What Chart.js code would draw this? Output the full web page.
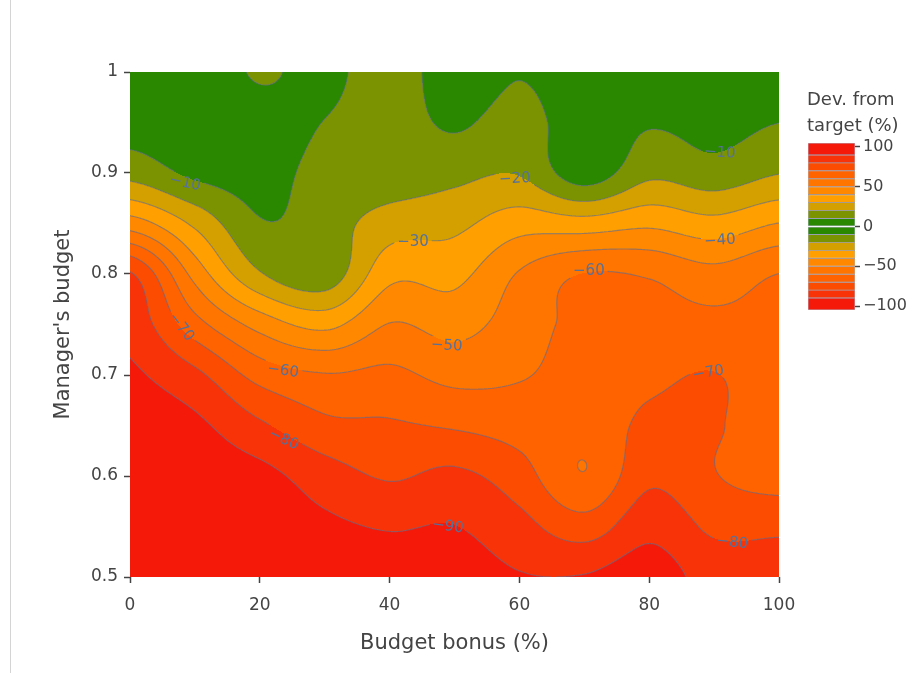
<!DOCTYPE html>
<html>
<head>
<meta charset="utf-8">
<script src="https://cdn.jsdelivr.net/npm/chart.js@4.4.1/dist/chart.umd.min.js"></script>
<style>
  html, body { margin: 0; padding: 0; background: #fff; }
  #wrap { position: relative; width: 917px; height: 673px; overflow: hidden; }
  #edge { position: absolute; left: 10px; top: 0; width: 1px; height: 673px; background: #d4d4d4; }
  #main { position: absolute; left: 0; top: 0; }
  #bar { position: absolute; left: 800px; top: 130px; }
  #cbTitle { position: absolute; left: 807px; top: 86px; font-family: "DejaVu Sans", Verdana, sans-serif;
             font-size: 18px; line-height: 26px; color: #444; white-space: nowrap; }
</style>
</head>
<body>
<div id="wrap">
  <div id="edge"></div>
  <canvas id="main" width="917" height="673"></canvas>
  <canvas id="bar" width="117" height="200"></canvas>
  <div id="cbTitle">Dev. from<br>target (%)</div>
</div>
<script>
// grid of the contour: budget bonus (x) and manager's budget (y, top to bottom)
const bonus = [0, 10, 20, 30, 40, 50, 60, 70, 80, 90, 100];
const budget = [1.0, 0.95, 0.9, 0.85, 0.8, 0.75, 0.7, 0.65, 0.6, 0.55, 0.5];

// deviation from target (%) for each bonus column, rows follow `budget`
const dev0   = [-3, -6, -16.5, -45, -81, -86.5, -91.5, -94, -96, -97, -98];
const dev10  = [-3, -5, -8, -28, -46.5, -64, -82.5, -92, -95, -97, -98];
const dev20  = [-11, -6, -7, -10.8, -21, -46.3, -66.3, -81.7, -93, -96, -98];
const dev30  = [-7, -10.2, -12.5, -15, -14, -37.3, -60.7, -72.5, -84.8, -92, -95];
const dev40  = [-15.5, -14.5, -14, -25, -37, -50.4, -62.3, -71.2, -79, -89.3, -94];
const dev50  = [-4, -8.5, -17.1, -27.4, -37.1, -46.5, -57.1, -68.9, -82.2, -90.2, -94];
const dev60  = [-9.5, -14.1, -19.3, -35.7, -50.8, -55, -59.2, -65.9, -74.4, -83.5, -90.5];
const dev70  = [-4, -4, -4.5, -34.3, -60.3, -63, -64, -63, -60.4, -74.7, -90.5];
const dev80  = [-3, -9, -17.6, -38, -58.9, -63.8, -67.8, -72.4, -77.8, -86.9, -95];
const dev90  = [-3, -6.5, -14, -33.4, -53.4, -62.9, -70.3, -70.8, -70.5, -78, -86];
const dev100 = [-5, -9.9, -19.6, -40.2, -60.1, -63, -64, -65, -66, -77.9, -85.8];

const levels = [-100, -90, -80, -70, -60, -50, -40, -30, -20, -10, 0, 10, 20, 30, 40, 50, 60, 70, 80, 90, 100];
const bandColors = [
  '#f5190a', '#f93308', '#fc4c02', '#ff6300', '#ff7500', '#ff8800', '#ffa000', '#d3a000', '#7b9300', '#2a8700',
  '#2a8700', '#7b9300', '#d3a000', '#ffa000', '#ff8800', '#ff7500', '#ff6300', '#fc4c02', '#f93308', '#f5190a'
];

const xTicks = [0, 20, 40, 60, 80, 100];
const yTicks = [0.5, 0.6, 0.7, 0.8, 0.9, 1];
const cbTicks = [-100, -50, 0, 50, 100];

// where plotly put the level labels (data coordinates)
const contourLabels = [
  { level: -10, x: 8.5,  y: 0.891, angle: 12 },
  { level: -30, x: 43.6, y: 0.833, angle: 0 },
  { level: -20, x: 59.3, y: 0.895, angle: -3 },
  { level: -10, x: 90.9, y: 0.921, angle: 4 },
  { level: -40, x: 90.9, y: 0.834, angle: -4 },
  { level: -60, x: 70.7, y: 0.804, angle: 0 },
  { level: -50, x: 48.8, y: 0.730, angle: 3 },
  { level: -70, x: 8.0,  y: 0.748, angle: 52 },
  { level: -60, x: 23.6, y: 0.705, angle: 8 },
  { level: -80, x: 23.7, y: 0.637, angle: 25 },
  { level: -90, x: 49.0, y: 0.551, angle: 8 },
  { level: -70, x: 89.1, y: 0.703, angle: -10 },
  { level: -80, x: 92.8, y: 0.535, angle: 6 },
];

const FONT = '"DejaVu Sans", Verdana, sans-serif';
const grid = [dev0, dev10, dev20, dev30, dev40, dev50, dev60, dev70, dev80, dev90, dev100];
const fmt = v => (v < 0 ? '\u2212' + Math.abs(v) : String(v));

function locate(arr, v) {
  const asc = arr[arr.length - 1] > arr[0];
  for (let i = 0; i < arr.length - 1; i++) {
    const a = arr[i], b = arr[i + 1];
    if ((asc && v <= b) || (!asc && v >= b)) {
      return [i, Math.min(1, Math.max(0, (v - a) / (b - a)))];
    }
  }
  return [arr.length - 2, 1];
}

// Catmull-Rom weights for the nodes i-1, i, i+1, i+2
function crWeights(t) {
  const t2 = t * t, t3 = t2 * t;
  return [(-t3 + 2 * t2 - t) / 2, (3 * t3 - 5 * t2 + 2) / 2, (-3 * t3 + 4 * t2 + t) / 2, (t3 - t2) / 2];
}

function devAt(bx, by) {
  const [i, tx] = locate(bonus, bx);
  const [j, ty] = locate(budget, by);
  const wx = crWeights(tx), wy = crWeights(ty);
  let z = 0;
  for (let a = 0; a < 4; a++) {
    const ii = Math.min(bonus.length - 1, Math.max(0, i - 1 + a));
    for (let b = 0; b < 4; b++) {
      const jj = Math.min(budget.length - 1, Math.max(0, j - 1 + b));
      z += wx[a] * wy[b] * grid[ii][jj];
    }
  }
  return z;
}

function bandOf(z) {
  for (let k = levels.length - 2; k >= 0; k--) {
    if (z >= levels[k]) return k;
  }
  return 0;
}

const hexRgb = h => [1, 3, 5].map(p => parseInt(h.slice(p, p + 2), 16));

const contourPlugin = {
  id: 'contour',
  beforeDatasetsDraw(chart) {
    const { ctx, chartArea: a, scales: { x, y } } = chart;
    const w = Math.round(a.right - a.left), h = Math.round(a.bottom - a.top);

    // filled bands
    const rgb = bandColors.map(hexRgb);
    const off = document.createElement('canvas');
    off.width = w; off.height = h;
    const oc = off.getContext('2d');
    const img = oc.createImageData(w, h);
    const xv = [];
    for (let i = 0; i < w; i++) xv.push(x.getValueForPixel(a.left + i + 0.5));
    for (let j = 0; j < h; j++) {
      const yv = y.getValueForPixel(a.top + j + 0.5);
      for (let i = 0; i < w; i++) {
        const c = rgb[bandOf(devAt(xv[i], yv))];
        const p = (j * w + i) * 4;
        img.data[p] = c[0]; img.data[p + 1] = c[1]; img.data[p + 2] = c[2]; img.data[p + 3] = 255;
      }
    }
    oc.putImageData(img, 0, 0);
    ctx.drawImage(off, a.left, a.top, w, h);

    // contour lines, sampled every 2px and traced with marching squares
    const s = 2;
    const nx = Math.ceil(w / s), ny = Math.ceil(h / s);
    const zs = [];
    for (let jj = 0; jj <= ny; jj++) {
      const row = [];
      const yv = y.getValueForPixel(Math.min(a.top + jj * s, a.bottom));
      for (let ii = 0; ii <= nx; ii++) row.push(devAt(x.getValueForPixel(Math.min(a.left + ii * s, a.right)), yv));
      zs.push(row);
    }

    ctx.save();
    ctx.font = '15px ' + FONT;
    // keep the lines out from under the labels
    ctx.beginPath();
    ctx.rect(a.left, a.top, a.right - a.left, a.bottom - a.top);
    const boxes = contourLabels.map(l => {
      const cx = x.getPixelForValue(l.x), cy = y.getPixelForValue(l.y);
      const hw = ctx.measureText(fmt(l.level)).width / 2 + 3, hh = 8;
      const t = l.angle * Math.PI / 180, co = Math.cos(t), si = Math.sin(t);
      const pts = [[-hw, -hh], [-hw, hh], [hw, hh], [hw, -hh]].map(([u, v]) => [cx + u * co - v * si, cy + u * si + v * co]);
      ctx.moveTo(pts[0][0], pts[0][1]);
      for (let k = 1; k < 4; k++) ctx.lineTo(pts[k][0], pts[k][1]);
      ctx.closePath();
      return { cx, cy, t };
    });
    ctx.clip('evenodd');

    ctx.strokeStyle = 'rgba(96,108,140,0.62)';
    ctx.lineWidth = 1.2;
    ctx.lineJoin = 'round';
    ctx.beginPath();
    for (let k = 1; k < levels.length - 1; k++) {
      const L = levels[k];
      for (let jj = 0; jj < ny; jj++) {
        const y0 = Math.min(a.top + jj * s, a.bottom), y1 = Math.min(a.top + (jj + 1) * s, a.bottom);
        for (let ii = 0; ii < nx; ii++) {
          const x0 = Math.min(a.left + ii * s, a.right), x1 = Math.min(a.left + (ii + 1) * s, a.right);
          const zA = zs[jj][ii], zB = zs[jj][ii + 1], zC = zs[jj + 1][ii + 1], zD = zs[jj + 1][ii];
          const pts = [];
          if ((zA < L) !== (zB < L)) pts.push([x0 + (x1 - x0) * (L - zA) / (zB - zA), y0]);
          if ((zB < L) !== (zC < L)) pts.push([x1, y0 + (y1 - y0) * (L - zB) / (zC - zB)]);
          if ((zD < L) !== (zC < L)) pts.push([x0 + (x1 - x0) * (L - zD) / (zC - zD), y1]);
          if ((zA < L) !== (zD < L)) pts.push([x0, y0 + (y1 - y0) * (L - zA) / (zD - zA)]);
          for (let p = 0; p + 1 < pts.length; p += 2) {
            ctx.moveTo(pts[p][0], pts[p][1]);
            ctx.lineTo(pts[p + 1][0], pts[p + 1][1]);
          }
        }
      }
    }
    ctx.stroke();
    ctx.restore();

    // level labels
    ctx.save();
    ctx.font = '15px ' + FONT;
    ctx.fillStyle = '#56719a';
    ctx.textAlign = 'center';
    ctx.textBaseline = 'middle';
    contourLabels.forEach((l, k) => {
      const b = boxes[k];
      ctx.save();
      ctx.translate(b.cx, b.cy);
      ctx.rotate(b.t);
      ctx.fillText(fmt(l.level), 0, 1);
      ctx.restore();
    });
    ctx.restore();
  }
};

Chart.defaults.font.family = FONT;
Chart.defaults.color = '#444';

new Chart(document.getElementById('main'), {
  type: 'scatter',
  data: { datasets: [{ data: [] }] },
  options: {
    responsive: false,
    animation: false,
    layout: { padding: { left: 47, top: 72, right: 138, bottom: 13 } },
    plugins: { legend: { display: false }, tooltip: { enabled: false } },
    scales: {
      x: {
        type: 'linear', min: 0, max: 100,
        afterBuildTicks: s => { s.ticks = xTicks.map(v => ({ value: v })); },
        afterFit: s => { s.height = 83; },
        ticks: { color: '#444', font: { size: 17 }, padding: 12, maxRotation: 0 },
        grid: { drawOnChartArea: false, tickLength: 6, tickColor: '#444', tickWidth: 1.5 },
        border: { display: false },
        title: { display: true, text: 'Budget bonus (%)', color: '#444', font: { size: 21 } }
      },
      y: {
        type: 'linear', min: 0.5, max: 1,
        afterBuildTicks: s => { s.ticks = yTicks.map(v => ({ value: v })); },
        afterFit: s => { s.width = 83; },
        ticks: { color: '#444', font: { size: 17 }, padding: 6, callback: v => String(+v.toFixed(1)) },
        grid: { drawOnChartArea: false, tickLength: 6, tickColor: '#444', tickWidth: 1.5 },
        border: { display: false },
        title: { display: true, text: "Manager's budget", color: '#444', font: { size: 21 } }
      }
    }
  },
  plugins: [contourPlugin]
});

// colour bar: one floating bar per contour band
new Chart(document.getElementById('bar'), {
  type: 'bar',
  data: {
    labels: [''],
    datasets: bandColors.map((c, k) => ({
      data: [[k === 0 ? -105 : levels[k], k === bandColors.length - 1 ? 105 : levels[k + 1]]],
      backgroundColor: c,
      borderColor: 'rgba(96,108,140,0.5)',
      borderWidth: 0.8,
      borderSkipped: false
    }))
  },
  options: {
    responsive: false,
    animation: false,
    layout: { padding: { left: 8, top: 13, bottom: 20, right: 0 } },
    plugins: { legend: { display: false }, tooltip: { enabled: false } },
    datasets: { bar: { grouped: false, barPercentage: 1, categoryPercentage: 1 } },
    scales: {
      x: { display: false },
      y: {
        position: 'right', min: -105, max: 105,
        afterBuildTicks: s => { s.ticks = cbTicks.map(v => ({ value: v })); },
        afterFit: s => { s.width = 62; },
        ticks: { color: '#444', font: { size: 16 }, padding: 3, callback: v => fmt(v) },
        grid: { drawOnChartArea: false, tickLength: 5, tickColor: '#444', tickWidth: 1.5 },
        border: { display: false }
      }
    }
  }
});
</script>
</body>
</html>
